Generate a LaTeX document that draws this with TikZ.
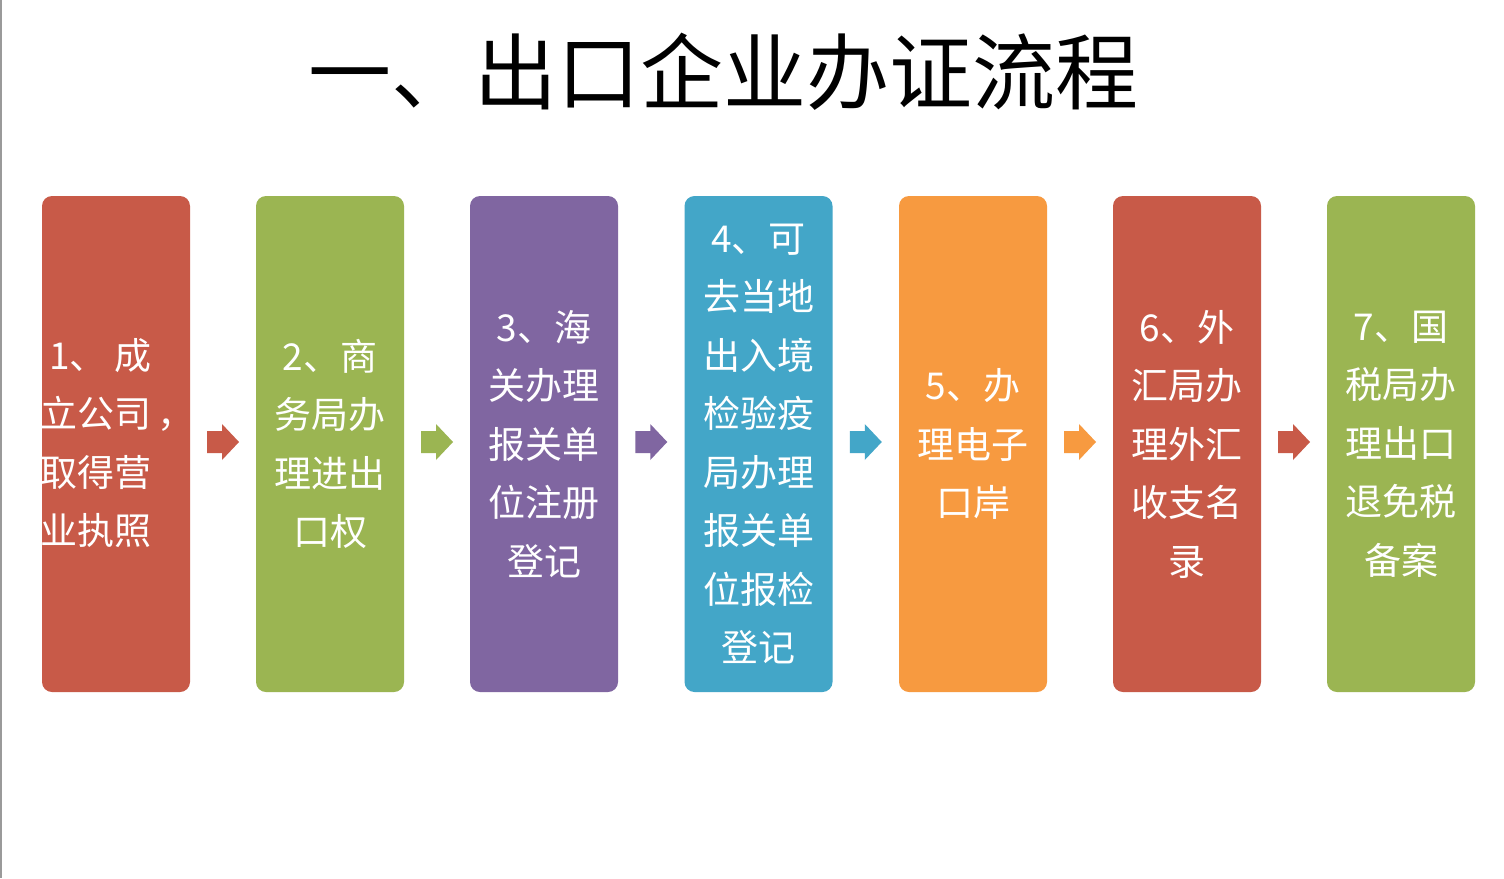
\documentclass[tikz,border=0pt]{standalone}
\usepackage{fontspec}
\setmainfont{Noto Sans CJK SC}
\newfontfamily\cjk{Noto Sans CJK SC}
\usetikzlibrary{calc}
\definecolor{cred}{HTML}{C85A48}
\definecolor{cgreen}{HTML}{9BB552}
\definecolor{cpurple}{HTML}{8066A1}
\definecolor{cblue}{HTML}{43A6C8}
\definecolor{corange}{HTML}{F79A40}
\definecolor{edgegray}{HTML}{9A9A9A}
\tikzset{
  stepbox/.style={minimum width=148pt, minimum height=496pt, rounded corners=10pt,
    inner sep=0pt, text=white, align=center, font=\cjk\fontsize{37}{58.5}\selectfont},
  boxtext/.style={inner sep=0pt, text=white, font=\cjk\fontsize{37}{58.5}\selectfont},
  titletext/.style={inner sep=0pt, text=black, font=\cjk\fontsize{83}{83}\selectfont}
}
\newcommand{\blockarrow}[2]{%
  \fill[#2] ([shift={(-16,-11)}]#1) -- ++(15,0) -- ++(0,-7) -- ++(17,18) -- ++(-17,18) -- ++(0,-7) -- ++(-15,0) -- cycle;}
\begin{document}
\begin{tikzpicture}[x=1pt,y=-1pt]
\useasboundingbox (0,0) rectangle (1504,878);
\fill[white] (0,0) rectangle (1504,878);
\draw[edgegray, line width=2pt] (1,0) -- (1,878);

\node[titletext] (title) at (723,72) {一、出口企业办证流程};

\node[stepbox, fill=cred] (b1) at (116,444) {};
\node[boxtext, anchor=west, align=left] (t1) at (40,443) {\hspace*{9pt}1、\hspace{8pt}成\\立公司\hspace{6pt}，\\取得营\\业执照};
\node[stepbox, fill=cgreen] (b2) at (330,444) {2、商\\务局办\\理进出\\口权};
\node[stepbox, fill=cpurple] (b3) at (544,444) {3、海\\关办理\\报关单\\位注册\\登记};
\node[stepbox, fill=cblue] (b4) at (758.5,444) {4、可\\去当地\\出入境\\检验疫\\局办理\\报关单\\位报检\\登记};
\node[stepbox, fill=corange] (b5) at (973,444) {5、办\\理电子\\口岸};
\node[stepbox, fill=cred] (b6) at (1187,444) {6、外\\汇局办\\理外汇\\收支名\\录};
\node[stepbox, fill=cgreen] (b7) at (1401,444) {7、国\\税局办\\理出口\\退免税\\备案};

\path ($(b1.east)!0.5!(b2.west)$) ++(0,-2) coordinate (m1);
\path ($(b2.east)!0.5!(b3.west)$) ++(0,-2) coordinate (m2);
\path ($(b3.east)!0.5!(b4.west)$) ++(0,-2) coordinate (m3);
\path ($(b4.east)!0.5!(b5.west)$) ++(0,-2) coordinate (m4);
\path ($(b5.east)!0.5!(b6.west)$) ++(0,-2) coordinate (m5);
\path ($(b6.east)!0.5!(b7.west)$) ++(0,-2) coordinate (m6);
\blockarrow{m1}{cred}
\blockarrow{m2}{cgreen}
\blockarrow{m3}{cpurple}
\blockarrow{m4}{cblue}
\blockarrow{m5}{corange}
\blockarrow{m6}{cred}
\end{tikzpicture}
\end{document}
